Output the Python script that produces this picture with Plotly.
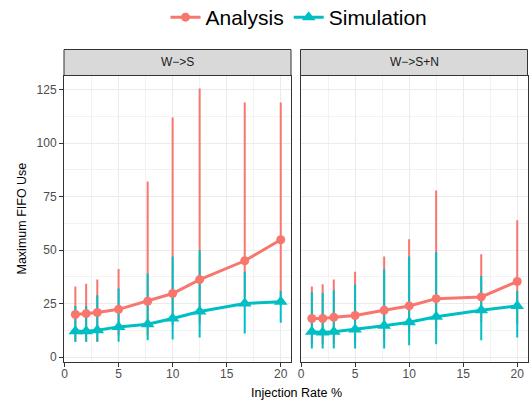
import plotly.graph_objects as go

# ---- data ----
rate = [1, 2, 3.03, 5, 7.69, 10, 12.5, 16.67, 20]
facets = ["W−>S", "W−>S+N"]

ana_ws = [19.9, 20.3, 20.8, 22.3, 26.1, 29.7, 36.2, 45.0, 54.8]
ana_ws_hi = [33, 34.2, 36.2, 41.1, 82, 112, 125.5, 119, 119]
ana_ws_lo = [7.1, 7.1, 7.1, 10.2, 10.2, 15, 15.6, 28, 27]
sim_ws = [12.1, 12.1, 12.5, 14.1, 15.3, 18.0, 21.3, 25.0, 25.8]
sim_ws_hi = [23.9, 23.9, 28.9, 32, 39, 47, 49.9, 39.9, 30.9]
sim_ws_lo = [7.1, 7.1, 7.1, 7.1, 7.9, 8.2, 9.1, 11, 16]

ana_wsn = [18.0, 18.0, 18.6, 19.4, 21.9, 23.9, 27.3, 28.1, 35.3]
ana_wsn_hi = [33, 34, 36.2, 39.9, 47, 55, 77.8, 48.1, 63.9]
ana_wsn_lo = [6, 6, 6, 7, 8, 11, 12.9, 16.4, 15.7]
sim_wsn = [11.8, 11.5, 11.8, 12.9, 14.6, 16.3, 18.8, 21.9, 23.9]
sim_wsn_hi = [30.4, 30, 31.2, 33.9, 41, 47, 49.1, 37.9, 30.9]
sim_wsn_lo = [4, 4, 4, 4, 4, 5.5, 6, 7.9, 9.1]

x_ticks = [0, 5, 10, 15, 20]
y_ticks = [0, 25, 50, 75, 100, 125]

RED = "#F8766D"
BLUE = "#00BFC4"
FONT = "Liberation Sans, Arial, Helvetica, sans-serif"

W, H = 532, 403


def px_x(p):
    return p / W


def px_y(p):
    return (H - p) / H


panels = [
    dict(name=facets[0], ax="x", ay="y", dom=[px_x(64), px_x(291)],
         ana=ana_ws, ana_hi=ana_ws_hi, ana_lo=ana_ws_lo,
         sim=sim_ws, sim_hi=sim_ws_hi, sim_lo=sim_ws_lo),
    dict(name=facets[1], ax="x2", ay="y2", dom=[px_x(300.5), px_x(527.5)],
         ana=ana_wsn, ana_hi=ana_wsn_hi, ana_lo=ana_wsn_lo,
         sim=sim_wsn, sim_hi=sim_wsn_hi, sim_lo=sim_wsn_lo),
]


def segments(xs, lo, hi):
    sx, sy = [], []
    for xv, l, h in zip(xs, lo, hi):
        sx += [xv, xv, None]
        sy += [l, h, None]
    return sx, sy


fig = go.Figure()

# range bars first
for i, p in enumerate(panels):
    for lo, hi, col in [(p["ana_lo"], p["ana_hi"], RED), (p["sim_lo"], p["sim_hi"], BLUE)]:
        sx, sy = segments(rate, lo, hi)
        fig.add_trace(go.Scatter(x=sx, y=sy, mode="lines", xaxis=p["ax"], yaxis=p["ay"],
                                 line=dict(color=col, width=2), showlegend=False,
                                 hoverinfo="skip"))

for i, p in enumerate(panels):
    fig.add_trace(go.Scatter(x=rate, y=p["ana"], mode="lines+markers", name="Analysis",
                             xaxis=p["ax"], yaxis=p["ay"], legendgroup="a",
                             showlegend=(i == 0),
                             line=dict(color=RED, width=3),
                             marker=dict(symbol="circle", size=9, color=RED)))
    fig.add_trace(go.Scatter(x=rate, y=p["sim"], mode="lines+markers", name="Simulation",
                             xaxis=p["ax"], yaxis=p["ay"], legendgroup="s",
                             showlegend=(i == 0),
                             line=dict(color=BLUE, width=3),
                             marker=dict(symbol="triangle-up", size=12, color=BLUE)))

all_lo = ana_ws_lo + sim_ws_lo + ana_wsn_lo + sim_wsn_lo
all_hi = ana_ws_hi + sim_ws_hi + ana_wsn_hi + sim_wsn_hi
ymin, ymax = min(all_lo), max(all_hi)
yspan = ymax - ymin
yr = [ymin - 0.05 * yspan, ymax + 0.05 * yspan]
xr = [-0.05, 20.95]

ydom = [px_y(361.5), px_y(75.5)]

axis_common = dict(showline=True, mirror=True, linecolor="#333333", linewidth=1,
                   ticks="outside", ticklen=4, tickcolor="#333333", tickwidth=1,
                   showgrid=True, gridcolor="#EBEBEB", gridwidth=1.2,
                   zeroline=False, automargin=False,
                   tickfont=dict(family=FONT, size=12, color="#4D4D4D"))

layout = dict(
    width=W, height=H, margin=dict(l=0, r=0, t=0, b=0, autoexpand=False),
    plot_bgcolor="white", paper_bgcolor="white",
    showlegend=True,
    legend=dict(orientation="h", x=px_x(299), xanchor="center", y=px_y(-3), yanchor="top",
                font=dict(family=FONT, size=21, color="black"), itemwidth=30,
                bgcolor="rgba(0,0,0,0)", tracegroupgap=0),
)

for i, p in enumerate(panels):
    xk = "xaxis" if i == 0 else "xaxis2"
    yk = "yaxis" if i == 0 else "yaxis2"
    layout[xk] = dict(axis_common, domain=p["dom"], range=xr, tickvals=x_ticks,
                      anchor=p["ay"], ticklabelstandoff=-3,
                      minor=dict(dtick=2.5, tick0=0, showgrid=True, gridcolor="#F2F2F2",
                                 gridwidth=0.8, ticks=""))
    layout[yk] = dict(axis_common, domain=ydom, range=yr, tickvals=y_ticks,
                      anchor=p["ax"], showticklabels=(i == 0),
                      minor=dict(dtick=12.5, tick0=0, showgrid=True, gridcolor="#F2F2F2",
                                 gridwidth=0.8, ticks=""))
    if i == 1:
        layout[yk]["matches"] = "y"
        layout[yk]["ticks"] = ""

fig.update_layout(**layout)

# strips
for p in panels:
    fig.add_shape(type="rect", xref="paper", yref="paper",
                  x0=p["dom"][0], x1=p["dom"][1], y0=ydom[1], y1=px_y(49.5),
                  fillcolor="#D9D9D9", line=dict(color="#333333", width=1))
    fig.add_annotation(text=p["name"], xref="paper", yref="paper",
                       x=(p["dom"][0] + p["dom"][1]) / 2, y=(ydom[1] + px_y(49.5)) / 2,
                       showarrow=False, xanchor="center", yanchor="middle",
                       font=dict(family=FONT, size=12, color="#1A1A1A"))

fig.add_annotation(text="Injection Rate %", xref="paper", yref="paper",
                   x=px_x(296), y=px_y(393), showarrow=False,
                   xanchor="center", yanchor="middle",
                   font=dict(family=FONT, size=12.5, color="black"))
fig.add_annotation(text="Maximum FIFO Use", xref="paper", yref="paper",
                   x=px_x(21), y=(ydom[0] + ydom[1]) / 2, showarrow=False, textangle=-90,
                   xanchor="center", yanchor="middle",
                   font=dict(family=FONT, size=12.5, color="black"))

fig.write_html("out.html")
